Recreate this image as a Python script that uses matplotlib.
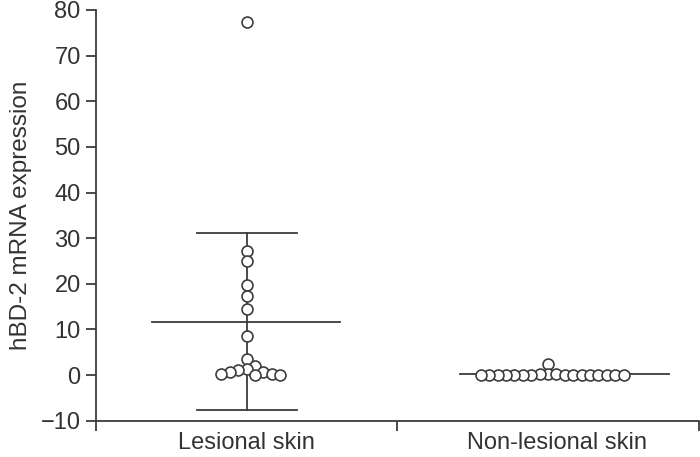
import numpy as np
import matplotlib
matplotlib.use("Agg")
import matplotlib.pyplot as plt

plt.rcParams["font.family"] = ["Liberation Sans", "DejaVu Sans"]

groups = ["Lesional skin", "Non-lesional skin"]
lesional = [77.4, 27.2, 24.9, 19.8, 17.4, 14.4, 8.6, 3.5, 2.0, 1.3,
            1.1, 0.7, 0.7, 0.2, 0.2, 0.0, 0.0]
nonLesional = [2.4, 0.2, 0.15, 0.15, 0.1, 0.1, 0.1, 0.1, 0.05, 0.05,
               0.05, 0.05, 0.0, 0.0, 0.0, 0.0, 0.0, 0.0, 0.0]
yTicks = [-10, 0, 10, 20, 30, 40, 50, 60, 70, 80]

ink = "#3c3c3c"
txt = "#333333"
figW, figH = 700, 457

fig = plt.figure(figsize=(7, 4.57), dpi=100)
ax = fig.add_axes([96 / figW, 1 - 420.7 / figH, 602.7 / figW, 410.7 / figH])
ax.set_xlim(0, 2)
ax.set_ylim(-10, 80)

pxPerX = 602.7 / 2
pxPerY = 410.7 / 90


def swarm(vals, step=8.4):
    # greedy beeswarm in pixel space, largest values first
    order = np.argsort(-vals, kind="stable")
    placed = []
    offs = np.zeros(len(vals))
    for i in order:
        y = vals[i] * pxPerY
        k = 0
        while True:
            cands = [0.0] if k == 0 else [k * step, -k * step]
            ok = None
            for c in cands:
                if all((c - px) ** 2 + (y - py) ** 2 >= (step - 0.01) ** 2 for px, py in placed):
                    ok = c
                    break
            if ok is not None:
                break
            k += 1
        placed.append((ok, y))
        offs[i] = ok
    return offs / pxPerX


centers = [0.5, 1.5]
meanSpan = [(0.186, 0.811), (1.209, 1.900)]
for data, cx, (lo, hi) in zip([lesional, nonLesional], centers, meanSpan):
    vals = np.array(data)
    m = vals.mean()
    sd = vals.std(ddof=1)
    ax.plot([lo, hi], [m, m], color=ink, lw=1.3, zorder=2)
    ax.plot([cx, cx], [m - sd, m + sd], color=ink, lw=1.3, zorder=2)
    for v in (m - sd, m + sd):
        ax.plot([cx - 0.166, cx + 0.166], [v, v], color=ink, lw=1.3, zorder=2)
    ax.scatter(cx + swarm(vals), vals, s=62, facecolor="white",
               edgecolor=ink, linewidth=1.2, zorder=3)

for s in ["top", "right"]:
    ax.spines[s].set_visible(False)
for s in ["left", "bottom"]:
    ax.spines[s].set_color(ink)
    ax.spines[s].set_linewidth(1.3)

ax.set_yticks(yTicks)
ax.set_yticklabels([f"{t}".replace("-", "\u2212") for t in yTicks])
ax.tick_params(axis="y", length=7, width=1.3, color=ink, labelsize=17,
               labelcolor=txt, pad=4)
ax.set_xticks([0, 1, 2])
ax.set_xticklabels([])
ax.tick_params(axis="x", length=7, width=1.3, color=ink)

ax.text(0.5, -14.9, groups[0], ha="center", va="center", fontsize=17, color=txt)
ax.text(1.53, -14.9, groups[1], ha="center", va="center", fontsize=17, color=txt)

ax.set_ylabel("hBD-2 mRNA expression", fontsize=17.5, color=txt, labelpad=6)

fig.savefig("out.png", dpi=100)
